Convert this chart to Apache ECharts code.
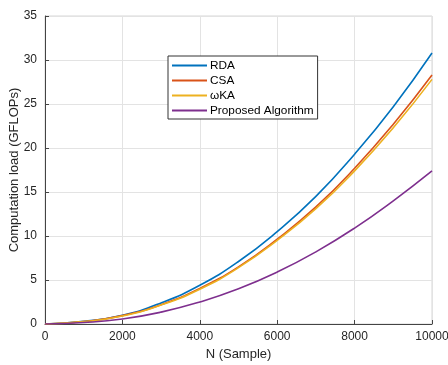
<!DOCTYPE html>
<html><head><meta charset="utf-8">
<script src="https://cdn.jsdelivr.net/npm/echarts@6/dist/echarts.min.js"></script>
<style>html,body{margin:0;padding:0;background:#fff}#c{width:448px;height:365px}</style>
</head><body><div id="c"></div>
<script>
const N = [0,1000,2000,3000,4000,5000,6000,7000,8000,9000,10000];
const rda = [0,0.3,1.0,2.4,4.4,7.1,10.5,14.5,19.3,24.7,30.8];
const csa = [0,0.28,0.95,2.2,4.05,6.5,9.65,13.3,17.7,22.7,28.3];
const wka = [0,0.27,0.9,2.15,3.95,6.4,9.5,13.1,17.4,22.3,27.8];
const proposed = [0,0.17,0.57,1.35,2.5,4.0,5.9,8.2,10.9,14.0,17.4];
const names = ['RDA','CSA','\u03c9KA','Proposed Algorithm'];
const colors = ['#0072BD','#D95319','#EDB120','#7E2F8E'];
const allData = [rda,csa,wka,proposed];
const font = 'Liberation Sans, Arial, sans-serif';
const chart = echarts.init(document.getElementById('c'));
chart.setOption({
  animation:false,
  grid:{left:45,right:16,top:16,bottom:41,show:true,borderColor:'#d6d6d6',borderWidth:1,
    containLabel:false,outerBoundsMode:'none'},
  legend:{
    left:168,top:56,orient:'vertical',icon:'rect',itemWidth:35,itemHeight:2,itemGap:2,
    backgroundColor:'#fff',borderColor:'#333',borderWidth:1,borderRadius:0,
    padding:[3,4,2,4],
    textStyle:{fontFamily:font,fontSize:11.8,color:'#000',padding:[0,0,0,-2],lineHeight:13},
    data:names
  },
  xAxis:{type:'value',min:0,max:10000,interval:2000,
    name:'N (Sample)',nameLocation:'middle',nameGap:24,nameMoveOverlap:false,
    nameTextStyle:{fontFamily:font,fontSize:13,color:'#262626'},
    axisLine:{show:true,lineStyle:{color:'#444',width:1}},
    axisTick:{show:true,inside:true,length:4,lineStyle:{color:'#444'}},
    axisLabel:{fontFamily:font,fontSize:12,color:'#262626',margin:7,formatter:v=>String(v)},
    splitLine:{show:true,lineStyle:{color:'#e3e3e3'}}
  },
  yAxis:{type:'value',min:0,max:35,interval:5,
    name:'Computation load (GFLOPs)',nameLocation:'middle',nameGap:24,nameMoveOverlap:false,
    nameTextStyle:{fontFamily:font,fontSize:13,color:'#262626'},
    axisLine:{show:true,lineStyle:{color:'#444',width:1}},
    axisTick:{show:true,inside:true,length:4,lineStyle:{color:'#444'}},
    axisLabel:{fontFamily:font,fontSize:12,color:'#262626',margin:8,formatter:v=>String(v)},
    splitLine:{show:true,lineStyle:{color:'#e3e3e3'}}
  },
  series: names.map((n,i)=>({
    name:n,type:'line',smooth:true,symbol:'none',
    data:N.map((x,j)=>[x,allData[i][j]]),
    lineStyle:{color:colors[i],width:1.6},itemStyle:{color:colors[i]}
  }))
});
</script></body></html>
